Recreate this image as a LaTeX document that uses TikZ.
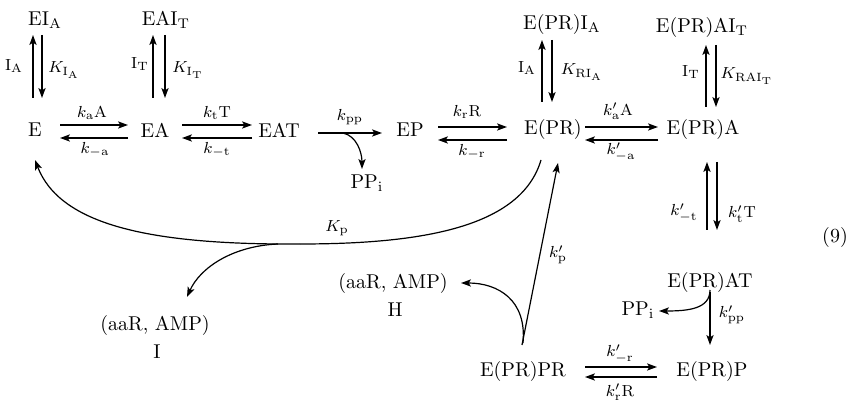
\documentclass[tikz,border=0pt]{standalone}
\usetikzlibrary{arrows.meta,calc}
\begin{document}
\begin{tikzpicture}[x=0.5pt,y=-0.5pt,
  sp/.style={inner sep=1pt, font=\normalsize},
  lbl/.style={inner sep=1pt, font=\footnotesize},
  arr/.style={line width=0.6pt, -{Stealth[length=5pt,width=3.6pt,inset=1.2pt]}},
  ln/.style={line width=0.6pt}]
\useasboundingbox (0,0) rectangle (859,406);
% species
\node[sp] (E) at (35,130) {E};
\node[sp] (EA) at (155,130) {EA};
\node[sp] (EAT) at (279,130) {EAT};
\node[sp] (EP) at (410,130) {EP};
\node[sp] (EPR) at (553,130) {E(PR)};
\node[sp] (EPRA) at (703,130) {E(PR)A};
\node[sp] (EIA) at (45,20) {EI$_{\mathrm{A}}$};
\node[sp] (EAIT) at (166,20) {EAI$_{\mathrm{T}}$};
\node[sp] (EPRIA) at (562,25) {E(PR)I$_{\mathrm{A}}$};
\node[sp] (EPRAIT) at (702,28) {E(PR)AI$_{\mathrm{T}}$};
\node[sp] (PPa) at (367,183) {PP$_{\mathrm{i}}$};
\node[sp] (EPRAT) at (710,283) {E(PR)AT};
\node[sp] (PPb) at (638,310) {PP$_{\mathrm{i}}$};
\node[sp] (EPRP) at (712,372) {E(PR)P};
\node[sp] (EPRPR) at (523,372) {E(PR)PR};
\node[sp] (aaH) at (393,284) {(aaR, AMP)};
\node[sp] (labH) at (395,310) {H};
\node[sp] (aaI) at (155,326) {(aaR, AMP)};
\node[sp] (labI) at (157,352) {I};
\node[sp] (eqn) at (835,238) {(9)};
% horizontal equilibria
\draw[arr] ($(E)+(25,-5)$) -- ($(EA)+(-27,-5)$);
\draw[arr] ($(EA)+(-27,8)$) -- ($(E)+(25,8)$);
\node[lbl] (l1) at (92,113) {$k_{\mathrm{a}}\mathrm{A}$};
\node[lbl] (l2) at (95,150) {$k_{-\mathrm{a}}$};
\draw[arr] ($(EA)+(27,-5)$) -- ($(EAT)+(-27,-5)$);
\draw[arr] ($(EAT)+(-27,8)$) -- ($(EA)+(27,8)$);
\node[lbl] (l3) at (217,113) {$k_{\mathrm{t}}\mathrm{T}$};
\node[lbl] (l4) at (217,150) {$k_{-\mathrm{t}}$};
\draw[arr] ($(EAT)+(39,3)$) -- ($(EP)+(-28,3)$);
\node[lbl] (l5) at (350,117) {$k_{\mathrm{pp}}$};
\draw[arr] ($(EAT)+(64,3)$) .. controls ($(EAT)+(78,6)$) and ($(PPa)+(-5,-30)$) .. ($(PPa)+(-5,-14)$);
\draw[arr] ($(EP)+(28,-3)$) -- ($(EPR)+(-46,-3)$);
\draw[arr] ($(EPR)+(-46,10)$) -- ($(EP)+(28,10)$);
\node[lbl] (l6) at (467,112) {$k_{\mathrm{r}}\mathrm{R}$};
\node[lbl] (l7) at (472,152) {$k_{-\mathrm{r}}$};
\draw[arr] ($(EPR)+(32,-3)$) -- ($(EPRA)+(-45,-3)$);
\draw[arr] ($(EPRA)+(-45,10)$) -- ($(EPR)+(32,10)$);
\node[lbl] (l8) at (618,111) {$k'_{\mathrm{a}}\mathrm{A}$};
\node[lbl] (l9) at (621,152) {$k'_{-\mathrm{a}}$};
\draw[arr] ($(EPRPR)+(62,-5)$) -- ($(EPRP)+(-55,-5)$);
\draw[arr] ($(EPRP)+(-55,5)$) -- ($(EPRPR)+(62,5)$);
\node[lbl] (l10) at (620,354) {$k'_{-\mathrm{r}}$};
\node[lbl] (l11) at (620,392) {$k'_{\mathrm{r}}\mathrm{R}$};
% vertical equilibria
\draw[arr] ($(E)+(-2,-32)$) -- ($(EIA)+(-12,15)$);
\draw[arr] ($(EIA)+(-3,15)$) -- ($(E)+(7,-32)$);
\node[lbl] (l12) at (14,66) {I$_{\mathrm{A}}$};
\node[lbl] (l13) at (64,70) {$K_{\mathrm{I_A}}$};
\draw[arr] ($(EA)+(-2,-32)$) -- ($(EAIT)+(-13,15)$);
\draw[arr] ($(EAIT)+(-1,15)$) -- ($(EA)+(10,-32)$);
\node[lbl] (l14) at (140,64) {I$_{\mathrm{T}}$};
\node[lbl] (l15) at (188,70) {$K_{\mathrm{I_T}}$};
\draw[arr] ($(EPR)+(-11,-28)$) -- ($(EPRIA)+(-20,15)$);
\draw[arr] ($(EPRIA)+(-10,15)$) -- ($(EPR)+(-1,-28)$);
\node[lbl] (l16) at (527,68) {I$_{\mathrm{A}}$};
\node[lbl] (l17) at (582,72) {$K_{\mathrm{RI_A}}$};
\draw[arr] ($(EPRA)+(3,-23)$) -- ($(EPRAIT)+(4,17)$);
\draw[arr] ($(EPRAIT)+(14,17)$) -- ($(EPRA)+(13,-23)$);
\node[lbl] (l18) at (691,72) {I$_{\mathrm{T}}$};
\node[lbl] (l19) at (747,76) {$K_{\mathrm{RAI_T}}$};
\draw[arr] ($(EPRAT)+(-3,-53)$) -- ($(EPRA)+(4,32)$);
\draw[arr] ($(EPRA)+(14,32)$) -- ($(EPRAT)+(7,-53)$);
\node[lbl] (l20) at (684,213) {$k'_{-\mathrm{t}}$};
\node[lbl] (l21) at (742,214) {$k'_{\mathrm{t}}\mathrm{T}$};
% E(PR)AT -> E(PR)P with PPi
\draw[arr] ($(EPRAT)+(0,9)$) -- ($(EPRP)+(-2,-27)$);
\draw[arr] ($(EPRAT)+(0,7)$) .. controls ($(EPRAT)+(0,26)$) and ($(PPb)+(50,1)$) .. ($(PPb)+(21,1)$);
\node[lbl] (l22) at (732,315) {$k'_{\mathrm{pp}}$};
% K_p pathway
\coordinate (kpmid) at (300,244);
\coordinate (kpbr) at (278,244);
\draw[ln] ($(EPR)+(-12,30)$) .. controls ($(EPR)+(-32,98)$) and (420,244) .. (kpmid);
\draw[arr] (kpmid) .. controls (150,245) and ($(E)+(25,95)$) .. ($(E)+(0,30)$);
\draw[arr] (kpbr) .. controls (232,246) and ($(aaI)+(45,-58)$) .. ($(aaI)+(32,-29)$);
\node[lbl] (l23) at (337,228) {$K_{\mathrm{p}}$};
% k'_p pathway
\draw[arr] ($(EPRPR)+(-1,-27)$) -- ($(EPR)+(5,33)$);
\draw[arr] ($(EPRPR)+(0,-29)$) .. controls ($(EPRPR)+(4,-72)$) and ($(aaH)+(105,-1)$) .. ($(aaH)+(68,-1)$);
\node[lbl] (l24) at (558,255) {$k'_{\mathrm{p}}$};
\end{tikzpicture}
\end{document}
